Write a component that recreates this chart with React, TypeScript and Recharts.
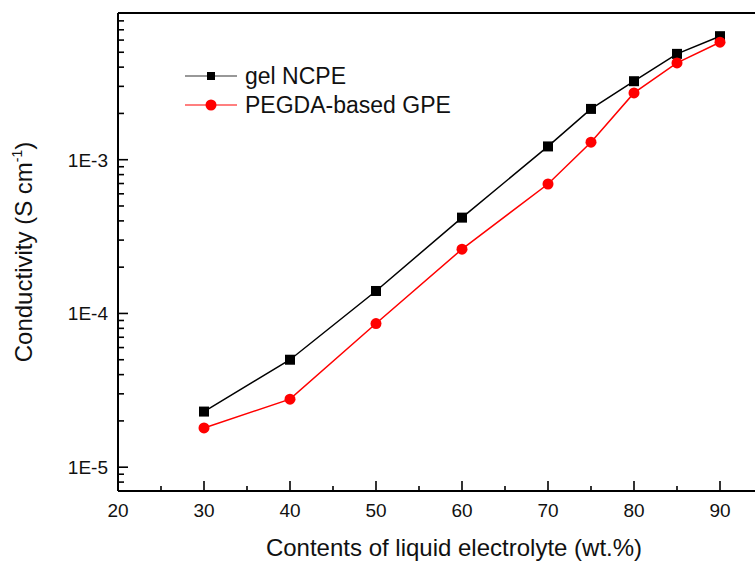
import React from 'react';
import { LineChart, Line, XAxis, YAxis, ReferenceLine, Label } from 'recharts';

const contents = [30, 40, 50, 60, 70, 75, 80, 85, 90];
const gelNCPE = [2.3e-5, 5.0e-5, 1.4e-4, 4.2e-4, 1.22e-3, 2.14e-3, 3.24e-3, 4.88e-3, 6.36e-3];
const pegdaGPE = [1.8e-5, 2.77e-5, 8.6e-5, 2.62e-4, 6.95e-4, 1.3e-3, 2.72e-3, 4.26e-3, 5.81e-3];

const seriesNames = ['gel NCPE', 'PEGDA-based GPE'];

const xTicks = [20, 25, 30, 35, 40, 45, 50, 55, 60, 65, 70, 75, 80, 85, 90, 95];
const xMajorTicks = [20, 30, 40, 50, 60, 70, 80, 90];
const xMajorLabels = ['20', '30', '40', '50', '60', '70', '80', '90'];

const yMajorTicks = [1e-5, 1e-4, 1e-3];
const yMajorLabels = ['1E-5', '1E-4', '1E-3'];
const yMinorTicks = [
  7e-6, 8e-6, 9e-6,
  2e-5, 3e-5, 4e-5, 5e-5, 6e-5, 7e-5, 8e-5, 9e-5,
  2e-4, 3e-4, 4e-4, 5e-4, 6e-4, 7e-4, 8e-4, 9e-4,
  2e-3, 3e-3, 4e-3, 5e-3, 6e-3, 7e-3, 8e-3, 9e-3,
];
const yTicks = [...yMajorTicks, ...yMinorTicks].sort((a, b) => a - b);

const xAxisTitle = 'Contents of liquid electrolyte (wt.%)';
const yAxisTitle = 'Conductivity (S cm';

const data = contents.map((c, i) => ({ x: c, gel: gelNCPE[i], pegda: pegdaGPE[i] }));

const FONT = '"Liberation Sans", Arial, Helvetica, sans-serif';
const TEXT = '#111';

// layout constants
const CHART_W = 780;
const CHART_H = 561;
const MARGIN = { top: 13, right: 17, bottom: 0, left: 0 };
const Y_AXIS_W = 118;
const X_AXIS_H = 70;
const PLOT_LEFT = MARGIN.left + Y_AXIS_W;
const PLOT_BOTTOM = CHART_H - MARGIN.bottom - X_AXIS_H;

const YTick = (props: any) => {
  const { y, payload } = props;
  const idx = yMajorTicks.indexOf(payload.value);
  const major = idx >= 0;
  const ax = PLOT_LEFT;
  return (
    <g>
      <line x1={ax} x2={ax + (major ? 10 : 6)} y1={y} y2={y} stroke="#000" strokeWidth={1.6} />
      {major && (
        <text x={ax - 10} y={y} dy="0.36em" textAnchor="end" fontSize={19} fontFamily={FONT} fill={TEXT}>
          {yMajorLabels[idx]}
        </text>
      )}
    </g>
  );
};

const XTick = (props: any) => {
  const { x, payload } = props;
  const idx = xMajorTicks.indexOf(payload.value);
  const major = idx >= 0;
  const ay = PLOT_BOTTOM;
  return (
    <g>
      <line x1={x} x2={x} y1={ay} y2={ay - (major ? 10 : 5)} stroke="#000" strokeWidth={1.6} />
      {major && (
        <text x={x} y={ay + 26} textAnchor="middle" fontSize={19} fontFamily={FONT} fill={TEXT}>
          {xMajorLabels[idx]}
        </text>
      )}
    </g>
  );
};

const renderYLabel = (props: any) => {
  const vb = props.viewBox || { x: 0, y: 13, width: 118, height: 478 };
  const tx = vb.x + 32;
  const ty = vb.y + vb.height / 2;
  return (
    <text
      x={tx}
      y={ty}
      transform={`rotate(-90, ${tx}, ${ty})`}
      textAnchor="middle"
      fontSize={24}
      fontFamily={FONT}
      fill={TEXT}
    >
      {yAxisTitle}
      <tspan fontSize={14} dy={-10}>-1</tspan>
      <tspan dy={10}>)</tspan>
    </text>
  );
};

const renderXLabel = (props: any) => {
  const vb = props.viewBox || { x: 118, y: 491, width: 645, height: 70 };
  const tx = vb.x + 336;
  const ty = vb.y + 65;
  return (
    <text x={tx} y={ty} textAnchor="middle" fontSize={24} fontFamily={FONT} fill={TEXT}>
      {xAxisTitle}
    </text>
  );
};

const Square = (props: any) => {
  const { cx, cy } = props;
  if (cx == null || cy == null) return null;
  return <rect x={cx - 5} y={cy - 5} width={10} height={10} fill="#000" />;
};

export default function App() {
  return (
    <div
      style={{
        position: 'fixed',
        left: 0,
        top: 0,
        width: 755,
        height: 561,
        overflow: 'hidden',
        background: '#fff',
      }}
    >
      <LineChart width={CHART_W} height={CHART_H} data={data} margin={MARGIN}>
        <XAxis
          dataKey="x"
          type="number"
          domain={[20, 95]}
          ticks={xTicks}
          interval={0}
          height={X_AXIS_H}
          tickSize={0}
          tickMargin={10}
          tickLine={false}
          tick={<XTick />}
          axisLine={{ stroke: '#000', strokeWidth: 2 }}
          allowDataOverflow
        >
          <Label content={renderXLabel} />
        </XAxis>
        <YAxis
          type="number"
          scale="log"
          domain={[7e-6, 9e-3]}
          ticks={yTicks}
          interval={0}
          width={Y_AXIS_W}
          tickSize={0}
          tickMargin={10}
          tickLine={false}
          tick={<YTick />}
          axisLine={{ stroke: '#000', strokeWidth: 2 }}
          allowDataOverflow
        >
          <Label content={renderYLabel} />
        </YAxis>
        <ReferenceLine y={9e-3} stroke="#000" strokeWidth={2} />
        <Line
          type="linear"
          dataKey="gel"
          name={seriesNames[0]}
          stroke="#000"
          strokeWidth={1.5}
          dot={<Square />}
          activeDot={false}
          isAnimationActive={false}
        />
        <Line
          type="linear"
          dataKey="pegda"
          name={seriesNames[1]}
          stroke="#ff0000"
          strokeWidth={1.5}
          dot={{ r: 5.5, fill: '#ff0000', stroke: '#ff0000', strokeWidth: 0 }}
          activeDot={false}
          isAnimationActive={false}
        />
      </LineChart>
      <svg
        width={755}
        height={561}
        style={{ position: 'absolute', left: 0, top: 0, pointerEvents: 'none' }}
      >
        <g>
          <line x1={185} x2={237} y1={76} y2={76} stroke="#333" strokeWidth={1.2} />
          <rect x={207} y={72} width={8} height={8} fill="#000" />
          <text x={245} y={84} fontSize={23} fontFamily={FONT} fill={TEXT}>
            {seriesNames[0]}
          </text>
        </g>
        <g>
          <line x1={185} x2={237} y1={105} y2={105} stroke="#ff0000" strokeWidth={1.2} />
          <circle cx={211} cy={105} r={5.5} fill="#ff0000" />
          <text x={245} y={113} fontSize={23} fontFamily={FONT} fill={TEXT}>
            {seriesNames[1]}
          </text>
        </g>
      </svg>
    </div>
  );
}
